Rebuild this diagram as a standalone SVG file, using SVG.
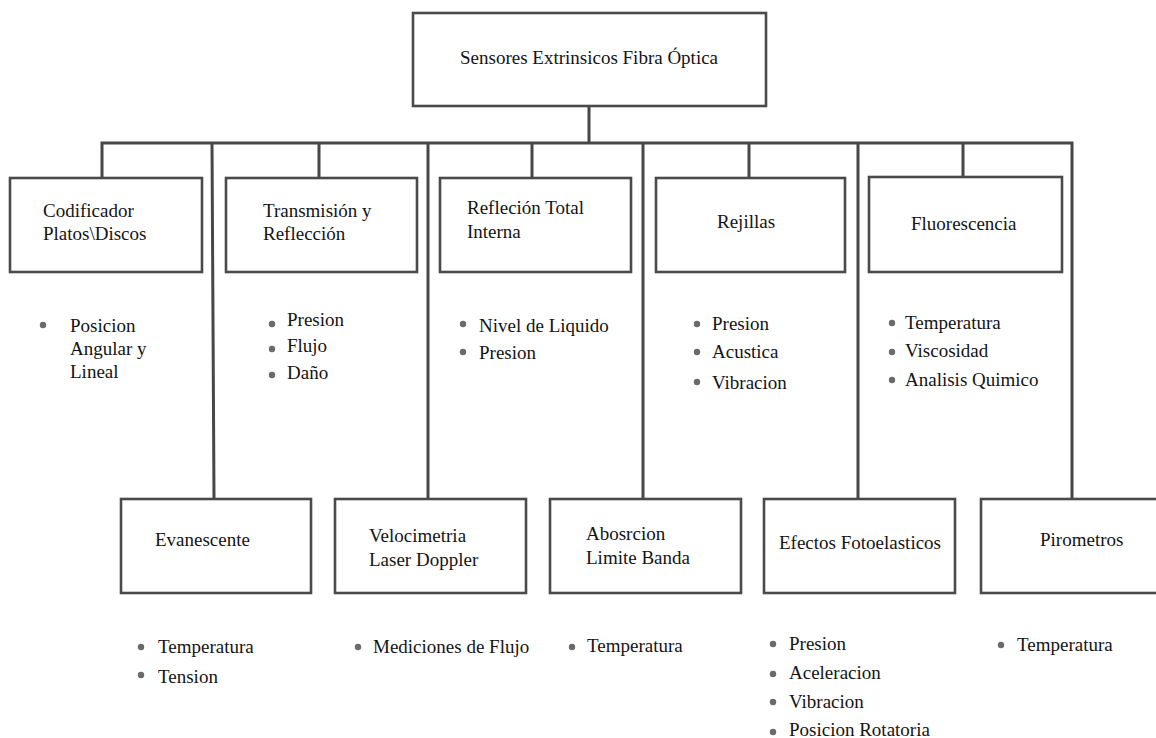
<svg xmlns="http://www.w3.org/2000/svg" width="1156" height="738" viewBox="0 0 1156 738">
<style>
.box{fill:#fff;stroke:#4a4a4a;stroke-width:2.6}
.ln{fill:none;stroke:#474747;stroke-width:3}
.t{font-family:"Liberation Serif","Times New Roman",serif;font-size:19px;fill:#141414}
.b{fill:#6a6a6a}
</style>
<rect width="1156" height="738" fill="#fff"/>
<g id="connectors">
<path class="ln" d="M589,106 V143 M102,178 V143 H1072 V499 M319,143 V178 M532,143 V178 M749,143 V178 M963,143 V178 M212,143 L214,499 M428,143 V499 M643,143 V499 M858,143 V499"/>
</g>
<g id="root">
<rect class="box" x="413" y="13" width="353" height="93"/>
<text class="t" x="460" y="64">Sensores Extrinsicos Fibra Óptica</text>
</g>
<g id="codificador">
<rect class="box" x="10" y="178" width="192" height="94"/>
<text class="t" x="43" y="217">Codificador</text>
<text class="t" x="43" y="240">Platos\Discos</text>
<circle class="b" cx="43" cy="325" r="3.2"/>
<text class="t" x="70" y="332">Posicion</text>
<text class="t" x="70" y="355">Angular y</text>
<text class="t" x="70" y="378">Lineal</text>
</g>
<g id="transmision">
<rect class="box" x="226" y="178" width="191" height="94"/>
<text class="t" x="263" y="217">Transmisión y</text>
<text class="t" x="263" y="240">Reflección</text>
<circle class="b" cx="272" cy="324" r="3.2"/>
<circle class="b" cx="272" cy="349" r="3.2"/>
<circle class="b" cx="272" cy="375" r="3.2"/>
<text class="t" x="287" y="326">Presion</text>
<text class="t" x="287" y="352">Flujo</text>
<text class="t" x="287" y="379">Daño</text>
</g>
<g id="reflexion">
<rect class="box" x="440" y="178" width="191" height="94"/>
<text class="t" x="467" y="214">Refleción Total</text>
<text class="t" x="467" y="238">Interna</text>
<circle class="b" cx="463" cy="324" r="3.2"/>
<circle class="b" cx="463" cy="352" r="3.2"/>
<text class="t" x="479" y="332">Nivel de Liquido</text>
<text class="t" x="479" y="359">Presion</text>
</g>
<g id="rejillas">
<rect class="box" x="656" y="178" width="189" height="94"/>
<text class="t" x="717" y="228">Rejillas</text>
<circle class="b" cx="697" cy="324" r="3.2"/>
<circle class="b" cx="697" cy="352" r="3.2"/>
<circle class="b" cx="697" cy="382" r="3.2"/>
<text class="t" x="712" y="330">Presion</text>
<text class="t" x="712" y="358">Acustica</text>
<text class="t" x="712" y="389">Vibracion</text>
</g>
<g id="fluorescencia">
<rect class="box" x="869" y="177" width="193" height="95"/>
<text class="t" x="911" y="230">Fluorescencia</text>
<circle class="b" cx="892" cy="323" r="3.2"/>
<circle class="b" cx="892" cy="352" r="3.2"/>
<circle class="b" cx="892" cy="380" r="3.2"/>
<text class="t" x="905" y="329">Temperatura</text>
<text class="t" x="905" y="357">Viscosidad</text>
<text class="t" x="905" y="386">Analisis Quimico</text>
</g>
<g id="evanescente">
<rect class="box" x="121" y="499" width="190" height="94"/>
<text class="t" x="155" y="546">Evanescente</text>
<circle class="b" cx="141" cy="647" r="3.2"/>
<circle class="b" cx="141" cy="675" r="3.2"/>
<text class="t" x="158" y="653">Temperatura</text>
<text class="t" x="158" y="683">Tension</text>
</g>
<g id="velocimetria">
<rect class="box" x="335" y="499" width="191" height="94"/>
<text class="t" x="369" y="542">Velocimetria</text>
<text class="t" x="369" y="566">Laser Doppler</text>
<circle class="b" cx="358" cy="647" r="3.2"/>
<text class="t" x="373" y="653">Mediciones de Flujo</text>
</g>
<g id="absorcion">
<rect class="box" x="550" y="499" width="191" height="94"/>
<text class="t" x="586" y="540">Abosrcion</text>
<text class="t" x="586" y="564">Limite Banda</text>
<circle class="b" cx="572" cy="647" r="3.2"/>
<text class="t" x="587" y="652">Temperatura</text>
</g>
<g id="fotoelasticos">
<rect class="box" x="764" y="499" width="191" height="94"/>
<text class="t" x="779" y="549">Efectos Fotoelasticos</text>
<circle class="b" cx="773" cy="644" r="3.2"/>
<circle class="b" cx="773" cy="674" r="3.2"/>
<circle class="b" cx="773" cy="702" r="3.2"/>
<circle class="b" cx="773" cy="732" r="3.2"/>
<text class="t" x="789" y="650">Presion</text>
<text class="t" x="789" y="679">Aceleracion</text>
<text class="t" x="789" y="708">Vibracion</text>
<text class="t" x="789" y="736">Posicion Rotatoria</text>
</g>
<g id="pirometros">
<rect class="box" x="981" y="499" width="178" height="94"/>
<text class="t" x="1040" y="546">Pirometros</text>
<circle class="b" cx="1001" cy="645" r="3.2"/>
<text class="t" x="1017" y="651">Temperatura</text>
</g>
</svg>
